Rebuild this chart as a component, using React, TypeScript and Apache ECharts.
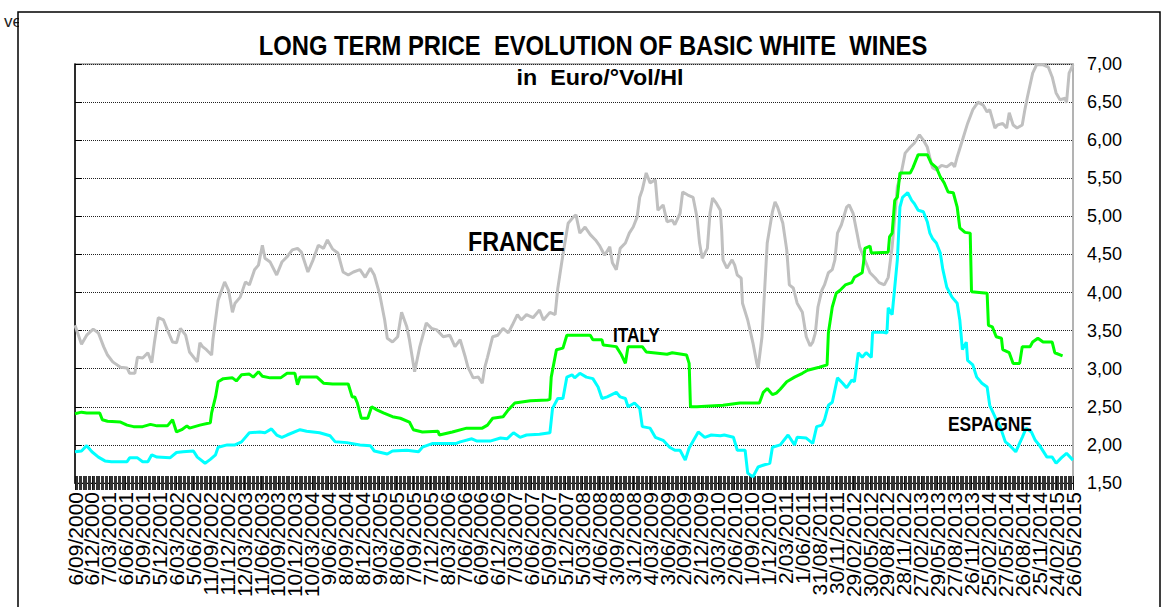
import React, { useEffect, useRef } from "react";
import * as echarts from "echarts";

// Quarterly tick labels (one every 13 weekly observations)
const dateLabels = [
  "6/09/2000", "6/12/2000", "7/03/2001", "6/06/2001", "5/09/2001", "5/12/2001",
  "6/03/2002", "5/06/2002", "11/09/2002", "11/12/2002", "12/03/2003", "11/06/2003",
  "10/09/2003", "10/12/2003", "10/03/2004", "9/06/2004", "8/09/2004", "8/12/2004",
  "9/03/2005", "8/06/2005", "7/09/2005", "7/12/2005", "8/03/2006", "7/06/2006",
  "6/09/2006", "6/12/2006", "7/03/2007", "6/06/2007", "5/09/2007", "5/12/2007",
  "5/03/2008", "4/06/2008", "3/09/2008", "3/12/2008", "4/03/2009", "3/06/2009",
  "2/09/2009", "2/12/2009", "3/03/2010", "2/06/2010", "1/09/2010", "1/12/2010",
  "2/03/2011", "1/06/2011", "31/08/2011", "30/11/2011", "29/02/2012", "30/05/2012",
  "29/08/2012", "28/11/2012", "27/02/2013", "29/05/2013", "27/08/2013", "26/11/2013",
  "25/02/2014", "27/05/2014", "26/08/2014", "25/11/2014", "24/02/2015", "26/05/2015",
];
const WEEKS_PER_LABEL = 13;

// [week index, price in Euro/°Vol/Hl]
const france: [number, number][] = [
  [0, 3.57], [5, 3.32], [9, 3.44], [14, 3.52], [18, 3.47], [22, 3.29], [25, 3.18], [29, 3.09],
  [35, 3.02], [40, 3.01], [42, 2.94], [46, 2.94], [48, 3.15], [52, 3.14], [56, 3.21], [59, 3.08],
  [61, 3.34], [64, 3.67], [68, 3.64], [71, 3.51], [75, 3.35], [78, 3.34], [81, 3.53], [85, 3.44],
  [88, 3.22], [94, 3.09], [96, 3.34], [98, 3.29], [101, 3.25], [105, 3.18], [106, 3.38], [110, 3.9],
  [115, 4.14], [118, 4.03], [121, 3.74], [123, 3.86], [127, 3.94], [131, 4.14], [134, 4.1], [138, 4.3],
  [141, 4.36], [144, 4.62], [146, 4.45], [150, 4.4], [155, 4.23], [159, 4.4], [163, 4.47], [167, 4.56],
  [171, 4.58], [174, 4.53], [179, 4.27], [183, 4.43], [187, 4.62], [191, 4.58], [194, 4.69], [198, 4.57],
  [202, 4.52], [206, 4.27], [210, 4.23], [214, 4.27], [219, 4.3], [223, 4.2], [227, 4.32], [230, 4.23],
  [234, 3.99], [238, 3.64], [240, 3.4], [244, 3.35], [248, 3.42], [251, 3.74], [255, 3.55], [257, 3.38],
  [261, 2.96], [265, 3.29], [270, 3.6], [274, 3.53], [278, 3.51], [283, 3.42], [288, 3.44], [292, 3.29],
  [296, 3.38], [300, 3.15], [302, 3.02], [306, 2.88], [310, 2.89], [313, 2.81], [315, 3.02], [317, 3.15],
  [321, 3.42], [325, 3.44], [329, 3.53], [333, 3.47], [336, 3.57], [340, 3.71], [343, 3.64], [347, 3.71],
  [352, 3.67], [357, 3.77], [360, 3.64], [365, 3.74], [369, 3.71], [371, 4.05], [375, 4.5], [379, 4.91],
  [383, 4.99], [385, 5.02], [388, 4.78], [392, 4.86], [396, 4.76], [400, 4.69], [403, 4.62], [407, 4.49],
  [411, 4.6], [413, 4.39], [416, 4.3], [419, 4.58], [423, 4.65], [426, 4.78], [429, 4.86], [432, 4.99],
  [434, 5.25], [436, 5.35], [439, 5.57], [442, 5.44], [446, 5.48], [448, 5.08], [452, 5.15], [455, 4.93],
  [459, 4.95], [461, 4.89], [465, 5.04], [467, 5.32], [471, 5.28], [475, 5.25], [478, 4.99], [480, 4.65],
  [482, 4.45], [486, 4.58], [488, 5.04], [490, 5.24], [493, 5.17], [496, 5.08], [497, 4.82], [498, 4.43],
  [501, 4.32], [505, 4.43], [507, 4.36], [509, 4.23], [512, 4.19], [513, 3.86], [517, 3.64], [521, 3.34],
  [524, 3.07], [525, 3.01], [528, 3.42], [530, 4.03], [532, 4.65], [536, 5.06], [538, 5.19], [540, 5.12],
  [544, 4.91], [547, 4.56], [549, 4.1], [552, 4.06], [555, 3.86], [559, 3.74], [562, 3.42], [565, 3.3],
  [567, 3.35], [569, 3.47], [571, 3.81], [574, 4.03], [576, 4.1], [579, 4.26], [582, 4.3], [584, 4.43],
  [586, 4.78], [589, 4.89], [593, 5.12], [595, 5.15], [598, 5.04], [601, 4.78], [603, 4.6], [607, 4.43],
  [611, 4.26], [615, 4.19], [618, 4.13], [622, 4.1], [625, 4.2], [628, 4.6], [630, 4.99], [632, 5.39],
  [635, 5.57], [638, 5.83], [642, 5.91], [645, 5.96], [649, 6.07], [652, 6.0], [655, 5.91], [657, 5.77],
  [659, 5.64], [662, 5.61], [666, 5.67], [670, 5.65], [674, 5.7], [676, 5.65], [678, 5.78], [682, 6.0],
  [686, 6.22], [690, 6.4], [694, 6.5], [698, 6.46], [701, 6.37], [703, 6.4], [707, 6.16], [709, 6.2],
  [713, 6.22], [716, 6.16], [718, 6.36], [721, 6.2], [724, 6.16], [728, 6.2], [730, 6.4], [732, 6.57],
  [736, 6.88], [739, 6.99], [744, 6.99], [748, 6.96], [751, 6.83], [754, 6.62], [757, 6.53], [761, 6.55],
  [762, 6.49], [764, 6.88], [767, 6.99],
];

const italy: [number, number][] = [
  [0, 2.41], [5, 2.43], [9, 2.42], [19, 2.42], [21, 2.33], [25, 2.31], [35, 2.3], [40, 2.26],
  [45, 2.24], [52, 2.24], [58, 2.27], [63, 2.25], [71, 2.25], [75, 2.33], [78, 2.17], [82, 2.2],
  [86, 2.25], [88, 2.22], [96, 2.26], [104, 2.29], [105, 2.42], [108, 2.63], [110, 2.83], [114, 2.87],
  [121, 2.88], [124, 2.84], [128, 2.92], [134, 2.93], [137, 2.89], [141, 2.96], [144, 2.9], [150, 2.88],
  [158, 2.88], [163, 2.94], [169, 2.94], [171, 2.79], [173, 2.89], [186, 2.89], [191, 2.81], [198, 2.8],
  [210, 2.8], [213, 2.63], [215, 2.63], [217, 2.55], [220, 2.35], [225, 2.35], [228, 2.5], [232, 2.46],
  [237, 2.42], [244, 2.37], [250, 2.35], [257, 2.3], [260, 2.2], [267, 2.17], [279, 2.18], [280, 2.13],
  [290, 2.17], [301, 2.22], [313, 2.22], [317, 2.26], [321, 2.35], [329, 2.37], [333, 2.46], [338, 2.55],
  [350, 2.58], [363, 2.59], [365, 2.6], [366, 2.89], [370, 3.25], [375, 3.27], [378, 3.44], [396, 3.44],
  [398, 3.38], [405, 3.38], [406, 3.31], [416, 3.29], [420, 3.18], [423, 3.07], [425, 3.29], [436, 3.29],
  [439, 3.22], [455, 3.19], [459, 3.21], [470, 3.18], [472, 3.07], [473, 2.5], [478, 2.5], [498, 2.52],
  [511, 2.55], [526, 2.55], [529, 2.69], [532, 2.74], [536, 2.66], [539, 2.68], [542, 2.73], [547, 2.83],
  [553, 2.89], [559, 2.94], [563, 2.98], [572, 3.02], [578, 3.05], [579, 3.47], [582, 3.81], [585, 3.99],
  [588, 4.03], [592, 4.1], [597, 4.13], [599, 4.2], [605, 4.26], [606, 4.39], [607, 4.58], [611, 4.61],
  [612, 4.52], [625, 4.53], [626, 4.73], [628, 4.78], [630, 5.21], [632, 5.25], [634, 5.57], [642, 5.57],
  [644, 5.64], [648, 5.81], [655, 5.81], [658, 5.7], [662, 5.64], [665, 5.52], [668, 5.44], [671, 5.32],
  [675, 5.31], [678, 5.12], [680, 4.85], [684, 4.79], [688, 4.78], [689, 4.01], [701, 3.99], [702, 3.57],
  [705, 3.55], [708, 3.42], [712, 3.4], [713, 3.25], [718, 3.21], [721, 3.07], [726, 3.07], [728, 3.29],
  [734, 3.29], [736, 3.35], [740, 3.4], [744, 3.35], [751, 3.35], [753, 3.21], [759, 3.17],
];

const spain: [number, number][] = [
  [0, 1.91], [5, 1.92], [9, 1.99], [13, 1.91], [18, 1.84], [23, 1.79], [28, 1.78], [40, 1.78],
  [42, 1.83], [48, 1.83], [52, 1.78], [56, 1.78], [59, 1.87], [63, 1.84], [73, 1.83], [78, 1.9],
  [83, 1.91], [91, 1.92], [94, 1.84], [100, 1.76], [104, 1.81], [108, 1.87], [110, 1.97], [117, 2.0],
  [123, 2.0], [128, 2.04], [134, 2.16], [142, 2.17], [146, 2.16], [151, 2.21], [155, 2.13], [159, 2.1],
  [163, 2.13], [173, 2.2], [178, 2.18], [188, 2.16], [196, 2.12], [200, 2.04], [209, 2.03], [219, 2.0],
  [227, 1.99], [230, 1.92], [240, 1.88], [244, 1.92], [255, 1.93], [264, 1.91], [267, 1.97], [275, 2.02],
  [293, 2.02], [296, 2.04], [305, 2.08], [309, 2.05], [319, 2.05], [327, 2.09], [332, 2.08], [337, 2.16],
  [342, 2.1], [347, 2.13], [357, 2.14], [365, 2.16], [367, 2.48], [371, 2.61], [375, 2.61], [378, 2.89],
  [382, 2.92], [384, 2.88], [388, 2.94], [393, 2.89], [398, 2.87], [402, 2.76], [405, 2.61], [409, 2.63],
  [416, 2.69], [419, 2.63], [423, 2.61], [425, 2.5], [430, 2.55], [434, 2.48], [436, 2.24], [442, 2.22],
  [446, 2.1], [452, 2.06], [457, 1.97], [461, 1.93], [465, 1.93], [469, 1.8], [472, 1.96], [479, 2.17],
  [484, 2.1], [489, 2.13], [496, 2.12], [499, 2.13], [506, 2.1], [509, 1.93], [515, 1.93], [517, 1.63],
  [521, 1.58], [525, 1.71], [530, 1.74], [534, 1.76], [536, 1.97], [542, 2.0], [548, 2.13], [553, 2.0],
  [555, 2.1], [562, 2.09], [567, 2.02], [570, 2.24], [574, 2.26], [576, 2.33], [579, 2.52], [582, 2.56],
  [586, 2.88], [590, 2.81], [593, 2.75], [597, 2.85], [599, 2.83], [602, 3.21], [605, 3.15], [608, 3.21],
  [612, 3.15], [613, 3.48], [621, 3.48], [624, 3.47], [625, 3.8], [628, 3.71], [632, 4.43], [634, 5.12],
  [636, 5.25], [640, 5.31], [643, 5.21], [645, 5.17], [648, 5.08], [652, 5.06], [655, 4.93], [657, 4.78],
  [659, 4.71], [662, 4.65], [665, 4.52], [667, 4.3], [670, 4.07], [674, 3.94], [678, 3.86], [680, 3.64],
  [682, 3.25], [685, 3.35], [686, 3.11], [690, 3.05], [693, 2.89], [697, 2.81], [701, 2.76], [703, 2.52],
  [707, 2.37], [711, 2.24], [715, 2.04], [718, 2.0], [723, 1.91], [728, 2.1], [731, 2.22], [735, 2.17],
  [738, 2.06], [741, 2.0], [747, 1.84], [751, 1.84], [754, 1.76], [758, 1.83], [762, 1.89], [767, 1.8],
];

const yTicks = { min: 1.5, max: 7, step: 0.5 };

const FONT = '"Liberation Sans", Arial, Helvetica, sans-serif';

export default function App() {
  const ref = useRef<HTMLDivElement>(null);

  useEffect(() => {
    if (!ref.current) return;
    const chart = echarts.init(ref.current, undefined, { renderer: "svg" });
    const maxWeek = (dateLabels.length - 1) * WEEKS_PER_LABEL;

    const weekAxis = {
      type: "value" as const,
      min: 0,
      max: maxWeek,
      interval: WEEKS_PER_LABEL,
      gridIndex: 0,
      position: "bottom" as const,
      offset: 0,
      splitLine: { show: false },
      axisLine: { show: false },
      axisLabel: { show: false },
    };

    chart.setOption({
      animation: false,
      backgroundColor: "#fff",
      grid: {
        left: 75,
        right: 91,
        top: 64,
        bottom: 124,
        show: true,
        borderColor: "#9a9a9a",
        borderWidth: 1.5,
      },
      xAxis: [
        {
          // category axis carrying the date labels
          type: "category",
          data: dateLabels,
          boundaryGap: false,
          gridIndex: 0,
          position: "bottom",
          offset: 0,
          axisLine: { show: true, lineStyle: { color: "#000", width: 1 } },
          axisTick: { show: true, interval: 0, inside: false, length: 7, lineStyle: { color: "#111", width: 1 } },
          splitLine: { show: false },
          axisLabel: {
            show: true,
            interval: 0,
            rotate: 90,
            margin: 9,
            fontSize: 21,
            fontFamily: FONT,
            color: "#000",
          },
        },
        {
          // weekly axis used by the series (weekly ticks below the axis)
          ...weekAxis,
          axisTick: { show: true, inside: false, length: 7, lineStyle: { color: "#111", width: 1 } },
          minorTick: { show: true, splitNumber: WEEKS_PER_LABEL, length: 7, lineStyle: { color: "#333", width: 1 } },
        },
        {
          // weekly ticks above the axis
          ...weekAxis,
          axisTick: { show: true, inside: true, length: 7, lineStyle: { color: "#111", width: 1 } },
          minorTick: { show: true, splitNumber: WEEKS_PER_LABEL, length: 7, lineStyle: { color: "#333", width: 1 } },
        },
      ],
      yAxis: {
        type: "value",
        position: "right",
        min: yTicks.min,
        max: yTicks.max,
        interval: yTicks.step,
        axisLine: { show: true, lineStyle: { color: "#000", width: 1.5 } },
        axisTick: { show: true, inside: false, length: 7, lineStyle: { color: "#000", width: 1 } },
        axisLabel: {
          margin: 14,
          fontSize: 18,
          fontFamily: FONT,
          color: "#000",
          formatter: (v: number) => v.toFixed(2).replace(".", ","),
        },
        splitLine: { show: true, lineStyle: { color: "#222", width: 1, type: [1, 1] } },
      },
      series: [
        {
          name: "FRANCE",
          type: "line",
          xAxisIndex: 1,
          data: france,
          showSymbol: false,
          lineStyle: { color: "#c0c0c0", width: 3 },
          itemStyle: { color: "#c0c0c0" },
          z: 3,
        },
        {
          name: "ITALY",
          type: "line",
          xAxisIndex: 1,
          data: italy,
          showSymbol: false,
          lineStyle: { color: "#00ff00", width: 3 },
          itemStyle: { color: "#00ff00" },
          z: 4,
        },
        {
          name: "ESPAGNE",
          type: "line",
          xAxisIndex: 1,
          data: spain,
          showSymbol: false,
          lineStyle: { color: "#00ffff", width: 3 },
          itemStyle: { color: "#00ffff" },
          z: 5,
        },
      ],
      graphic: [
        {
          type: "text",
          x: 4,
          y: 13,
          z: 1,
          style: { text: "ve", font: `17px ${FONT}`, fill: "#222", verticalAlign: "top" },
        },
        {
          type: "rect",
          z: 2,
          shape: { x: 19, y: 13, width: 14, height: 22 },
          style: { fill: "#fff" },
        },
        {
          type: "rect",
          z: 3,
          shape: { x: 18, y: 12, width: 1142, height: 700 },
          style: { fill: "none", stroke: "#000", lineWidth: 1.5 },
        },
        {
          type: "text",
          x: 593,
          y: 45,
          scaleX: 0.85,
          z: 10,
          style: {
            text: "LONG TERM PRICE  EVOLUTION OF BASIC WHITE  WINES",
            font: `bold 28px ${FONT}`,
            fill: "#000",
            align: "center",
            verticalAlign: "middle",
          },
        },
        {
          type: "text",
          x: 600,
          y: 77,
          scaleX: 1.06,
          z: 10,
          style: {
            text: "in  Euro/°Vol/Hl",
            font: `bold 22px ${FONT}`,
            fill: "#000",
            align: "center",
            verticalAlign: "middle",
          },
        },
        {
          type: "text",
          x: 468,
          y: 241,
          scaleX: 0.83,
          z: 10,
          style: { text: "FRANCE", font: `bold 28px ${FONT}`, fill: "#000", align: "left", verticalAlign: "middle" },
        },
        {
          type: "text",
          x: 613,
          y: 335,
          scaleX: 0.82,
          z: 10,
          style: { text: "ITALY", font: `bold 21px ${FONT}`, fill: "#000", align: "left", verticalAlign: "middle" },
        },
        {
          type: "text",
          x: 948,
          y: 424,
          scaleX: 0.83,
          z: 10,
          style: { text: "ESPAGNE", font: `bold 21px ${FONT}`, fill: "#000", align: "left", verticalAlign: "middle" },
        },
      ],
    });

    return () => chart.dispose();
  }, []);

  return (
    <div
      ref={ref}
      style={{ position: "fixed", left: 0, top: 0, width: 1164, height: 607, background: "#fff" }}
    />
  );
}
